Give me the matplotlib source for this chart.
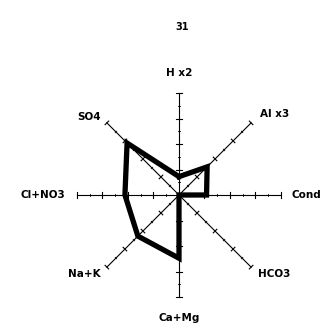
import numpy as np
import matplotlib
matplotlib.use("Agg")
import matplotlib.pyplot as plt

# axes of the star diagram, clockwise from the top
labels = ["H x2", "Al x3", "Cond", "HCO3", "Ca+Mg", "Na+K", "Cl+NO3", "SO4"]
angles_deg = [90, 45, 0, -45, -90, -135, 180, 135]
# values as fraction of the axis length
values = [0.18, 0.39, 0.27, 0.0, 0.62, 0.57, 0.53, 0.72]
title = "31"

ticks = [0.25, 0.5, 0.75, 1.0]
minor = [0.125, 0.375, 0.625, 0.875]

# pixel layout of the original: centre (179,195), radius 102 px
W, H = 330, 327
cx, cy, R = 179, 195, 102

fig = plt.figure(figsize=(W / 100, H / 100), dpi=100)
ax = fig.add_axes([0, 0, 1, 1])
ax.set_xlim(-cx / R, (W - cx) / R)
ax.set_ylim(-(H - cy) / R, cy / R)
ax.axis("off")

th = np.radians(angles_deg)
ux, uy = np.cos(th), np.sin(th)

for i in range(len(labels)):
    ax.plot([0, ux[i]], [0, uy[i]], color="black", lw=0.8)
    px, py = -uy[i], ux[i]
    for t in ticks:
        h = 0.025
        ax.plot([t * ux[i] - h * px, t * ux[i] + h * px],
                [t * uy[i] - h * py, t * uy[i] + h * py], color="black", lw=0.8)
    for t in minor:
        h = 0.01
        ax.plot([t * ux[i] - h * px, t * ux[i] + h * px],
                [t * uy[i] - h * py, t * uy[i] + h * py], color="black", lw=0.6)

# label placement (radius, alignment)
lab_pos = {"H x2": (1.2, "center"), "Al x3": (1.12, "left"),
           "Cond": (1.25, "center"), "HCO3": (1.1, "left"),
           "Ca+Mg": (1.21, "center"), "Na+K": (1.09, "right"),
           "Cl+NO3": (1.33, "center"), "SO4": (1.08, "right")}
for i, lab in enumerate(labels):
    r, ha = lab_pos[lab]
    ax.text(r * ux[i], r * uy[i], lab, ha=ha, va="center",
            fontsize=7.5, fontweight="bold", family="DejaVu Sans")

v = np.array(values + values[:1])
xs = v * np.append(ux, ux[0])
ys = v * np.append(uy, uy[0])
ax.plot(xs, ys, color="black", lw=3.8, solid_joinstyle="miter")

ax.text(0.03, (cy - 27) / R, title, ha="center", va="center",
        fontsize=7, fontweight="bold")

fig.savefig("out.png", dpi=100)
